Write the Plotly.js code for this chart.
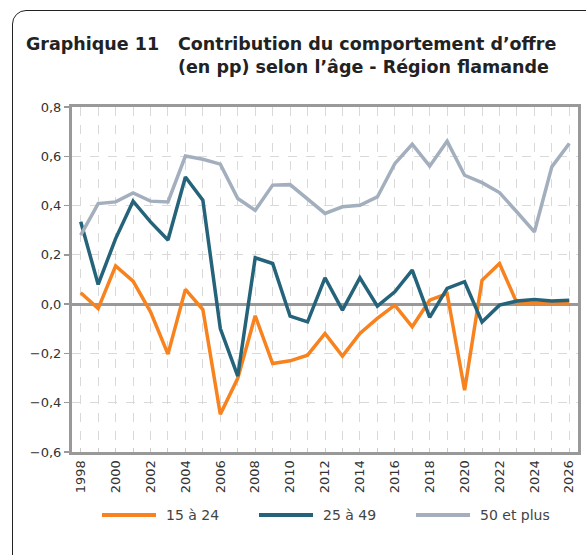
<!DOCTYPE html>
<html>
<head>
<meta charset="utf-8">
<script src="https://cdn.plot.ly/plotly-3.0.1.min.js"></script>
<style>
  html, body { margin:0; padding:0; width:586px; height:555px; overflow:hidden; background:#fff; }
  #frame { position:absolute; left:12px; top:10px; width:640px; height:640px; border:1.5px solid #222; border-radius:14px; box-sizing:border-box; }
  #chart { position:absolute; left:0; top:0; width:586px; height:555px; }
</style>
</head>
<body>
<div id="frame"></div>
<div id="chart"></div>
<script>
const years = [1998,1999,2000,2001,2002,2003,2004,2005,2006,2007,2008,2009,2010,2011,2012,2013,2014,2015,2016,2017,2018,2019,2020,2021,2022,2023,2024,2025,2026];
const age15to24 = [0.046,-0.018,0.155,0.093,-0.031,-0.203,0.060,-0.022,-0.447,-0.301,-0.047,-0.241,-0.230,-0.207,-0.119,-0.211,-0.119,-0.058,-0.004,-0.092,0.016,0.043,-0.349,0.097,0.165,0.005,0.005,0.005,0.005];
const age25to49 = [0.334,0.080,0.266,0.418,0.334,0.260,0.516,0.422,-0.099,-0.292,0.188,0.165,-0.049,-0.072,0.107,-0.024,0.107,-0.008,0.050,0.138,-0.054,0.064,0.091,-0.072,-0.004,0.013,0.019,0.013,0.016];
const age50plus = [0.280,0.408,0.415,0.451,0.418,0.415,0.601,0.588,0.568,0.429,0.381,0.483,0.485,0.426,0.368,0.395,0.401,0.435,0.570,0.649,0.560,0.661,0.523,0.493,0.453,0.374,0.293,0.557,0.652];
const seriesNames = ['15 à 24','25 à 49','50 et plus'];
const seriesColors = ['#F7821E','#24637A','#A3AFBD'];

const FONT = 'DejaVu Sans, Verdana, sans-serif';
const W = 586, H = 555, ML = 72, MR = 8, MT = 107, MB = 103;
const PW = W - ML - MR, PH = H - MT - MB;
const px = v => (v - ML) / PW;          // page x -> paper x
const py = v => (H - MB - v) / PH;      // page y -> paper y

const traces = [age15to24, age25to49, age50plus].map((ys, i) => ({
  type: 'scatter', mode: 'lines', x: years, y: ys, name: seriesNames[i],
  line: { color: seriesColors[i], width: 3.5 },
  showlegend: false, hoverinfo: 'skip'
}));

// custom legend (long line samples as in the reference)
const legendStarts = [102, 259, 416];
const legendShapes = seriesNames.map((n, i) => ({
  type: 'line', xref: 'paper', yref: 'paper',
  x0: px(legendStarts[i]), x1: px(legendStarts[i] + 54), y0: py(515), y1: py(515),
  line: { color: seriesColors[i], width: 4 }
}));
const legendLabels = seriesNames.map((n, i) => ({
  text: n, xref: 'paper', yref: 'paper',
  x: px(legendStarts[i] + 62), y: py(515), xanchor: 'left', yanchor: 'middle',
  showarrow: false, font: { size: 14, color: '#444', family: FONT }
}));

const layout = {
  width: W, height: H,
  margin: { l: ML, r: MR, t: MT, b: MB },
  paper_bgcolor: 'rgba(0,0,0,0)',
  plot_bgcolor: '#fff',
  separators: ', ',
  showlegend: false,
  font: { family: FONT, color: '#333', size: 13 },
  xaxis: {
    range: [1997.5, 2026.5],
    tickmode: 'linear', tick0: 1998, dtick: 2,
    tickangle: -90,
    tickfont: { size: 13, color: '#333' },
    ticks: 'inside', ticklen: 4, tickcolor: '#ccc',
    showgrid: true, gridcolor: '#d9d9d9', griddash: 'dash', gridwidth: 1,
    minor: { dtick: 1, showgrid: true, gridcolor: '#d9d9d9', griddash: 'dash', ticks: 'inside', ticklen: 4, tickcolor: '#ccc' },
    showline: true, linecolor: '#999', linewidth: 3, mirror: true,
    zeroline: false
  },
  xaxis2: {
    overlaying: 'x', anchor: 'free', position: 0.6/1.4,
    range: [1997.5, 2026.5],
    tickmode: 'linear', tick0: 1998, dtick: 1,
    ticks: 'outside', ticklen: 4, tickcolor: '#999', tickwidth: 1,
    showticklabels: false, showgrid: false, showline: false, zeroline: false
  },
  yaxis: {
    range: [-0.6, 0.8],
    tickmode: 'linear', tick0: -0.6, dtick: 0.2,
    tickformat: '.1f',
    tickfont: { size: 13, color: '#333' },
    ticks: 'outside', ticklen: 5, tickcolor: '#999', tickwidth: 1.5,
    showgrid: true, gridcolor: '#d9d9d9', griddash: 'dash', gridwidth: 1,
    showline: true, linecolor: '#999', linewidth: 3, mirror: true,
    zeroline: true, zerolinecolor: '#999', zerolinewidth: 3
  },
  shapes: legendShapes,
  annotations: [
    { text: '<b>Graphique 11</b>', xref: 'paper', yref: 'paper',
      x: px(24), y: py(44), xanchor: 'left', yanchor: 'middle',
      showarrow: false, font: { size: 17.5, color: '#222', family: FONT } },
    { text: '<b>Contribution du comportement d’offre<br>(en pp) selon l’âge - Région flamande</b>', xref: 'paper', yref: 'paper',
      x: px(176), y: py(56), xanchor: 'left', yanchor: 'middle', align: 'left',
      showarrow: false, font: { size: 17.5, color: '#222', family: FONT } }
  ].concat(legendLabels)
};

Plotly.newPlot('chart', traces, layout, { staticPlot: true });
</script>
</body>
</html>
